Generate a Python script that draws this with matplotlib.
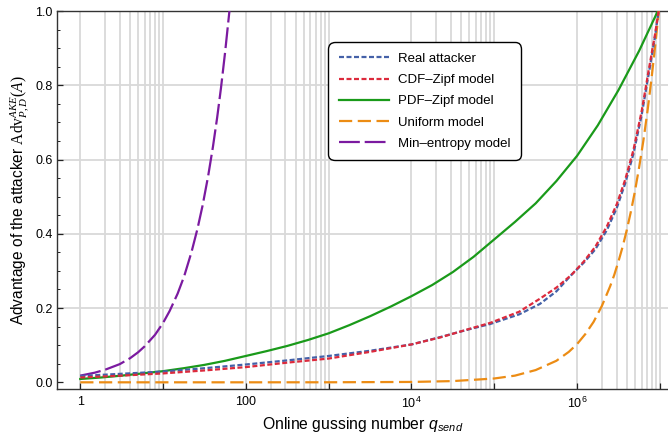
import numpy as np
import matplotlib
matplotlib.use("Agg")
import matplotlib.pyplot as plt
from matplotlib.ticker import FixedLocator, FixedFormatter, MultipleLocator, NullFormatter

plt.rcParams['font.family'] = ['Liberation Sans', 'DejaVu Sans']
plt.rcParams['mathtext.fontset'] = 'custom'
plt.rcParams['mathtext.rm'] = 'Liberation Serif'
plt.rcParams['mathtext.it'] = 'Liberation Serif:italic'
plt.rcParams['mathtext.sf'] = 'Liberation Sans'
plt.rcParams['mathtext.bf'] = 'Liberation Sans:italic'
plt.rcParams['lines.scale_dashes'] = False

# ---------------- data ----------------
real_logq = [0, 0.5, 1, 1.5, 2, 2.5, 3, 3.5, 4, 4.35, 4.7, 4.95, 5.3, 5.55, 5.75,
             5.93, 6.08, 6.22, 6.36, 6.48, 6.58, 6.68, 6.78, 6.88, 6.94, 6.985]
real_adv = [0.017, 0.023, 0.029, 0.038, 0.048, 0.059, 0.071, 0.085, 0.102, 0.122,
            0.143, 0.157, 0.183, 0.211, 0.245, 0.289, 0.322, 0.358, 0.41, 0.47,
            0.535, 0.615, 0.72, 0.85, 0.93, 1.0]

cdf_logq = [0, 0.5, 1, 1.5, 2, 2.5, 3, 3.5, 4, 4.35, 4.7, 4.95, 5.3, 5.55, 5.75,
            5.93, 6.08, 6.22, 6.36, 6.48, 6.58, 6.68, 6.78, 6.88, 6.94, 6.985]
cdf_adv = [0.013, 0.018, 0.024, 0.032, 0.041, 0.053, 0.064, 0.082, 0.102, 0.121,
           0.144, 0.16, 0.19, 0.225, 0.255, 0.289, 0.325, 0.365, 0.42, 0.48,
           0.545, 0.625, 0.73, 0.86, 0.935, 1.0]

pdf_logq = [0, 0.25, 0.5, 0.75, 1, 1.25, 1.5, 1.75, 2, 2.25, 2.5, 2.75, 3, 3.25,
            3.5, 3.75, 4, 4.25, 4.5, 4.75, 5, 5.25, 5.5, 5.75, 6, 6.25, 6.5,
            6.75, 6.975]
pdf_adv = [0.009, 0.013, 0.018, 0.024, 0.030, 0.038, 0.047, 0.058, 0.071, 0.084,
           0.098, 0.114, 0.132, 0.154, 0.178, 0.204, 0.232, 0.262, 0.297, 0.338,
           0.385, 0.432, 0.482, 0.542, 0.61, 0.692, 0.787, 0.893, 1.0]

uni_logq = [0, 1, 2, 3, 4, 4.5, 5, 5.25, 5.5, 5.75, 5.9, 6.0, 6.1, 6.2, 6.3, 6.4,
            6.45, 6.5, 6.55, 6.6, 6.65, 6.7, 6.75, 6.8, 6.85, 6.9, 6.95, 6.987]
uni_adv = [0.0, 0.0, 0.0, 0.0001, 0.001, 0.0033, 0.0103, 0.018, 0.033, 0.058, 0.082,
           0.103, 0.130, 0.163, 0.206, 0.259, 0.29, 0.326, 0.365, 0.41, 0.46, 0.516,
           0.58, 0.65, 0.73, 0.82, 0.92, 1.0]

minent_q = [1, 1.5, 2, 3, 4, 5, 6, 8, 10, 12, 15, 18, 22, 26, 30, 35, 40, 45, 50,
            56, 63.3]
minent_adv = [0.018, 0.026, 0.034, 0.049, 0.065, 0.081, 0.097, 0.128, 0.16, 0.192,
              0.239, 0.286, 0.35, 0.413, 0.476, 0.555, 0.634, 0.713, 0.792, 0.887, 1.0]

labels = ["Real attacker", "CDF\u2013Zipf model", "PDF\u2013Zipf model",
          "Uniform model", "Min\u2013entropy model"]
xtick_vals = [10.0**m for m in range(0, 8)]
xtick_labels = ["1", "", "100", "", r"$\mathsf{10^{4}}$", "", r"$\mathsf{10^{6}}$", ""]
ytick_vals = [0.0, 0.2, 0.4, 0.6, 0.8, 1.0]

# ---------------- figure ----------------
fig = plt.figure(figsize=(6.68, 4.37), dpi=100)
ax = fig.add_axes([57/668, 48/437, 611/668, 378/437])

grid_col = '#d9d9d9'
vgrid = [k * 10.0**m for m in (0, 2, 4, 6) for k in range(1, 11)]
for v in vgrid:
    ax.axvline(v, color=grid_col, lw=1.3, zorder=0)
for h in [0.2, 0.4, 0.6, 0.8]:
    ax.axhline(h, color=grid_col, lw=1.3, zorder=0)

c_blue = '#4461a8'
c_red = '#dc2a3c'
c_green = '#1a9a1a'
c_orange = '#ec8c14'
c_purple = '#7b1aa0'

ax.plot(10.0**np.array(real_logq), real_adv, color=c_blue, lw=1.6,
        dashes=(3.6, 1.8), label=labels[0], zorder=4)
ax.plot(10.0**np.array(cdf_logq), cdf_adv, color=c_red, lw=1.6,
        dashes=(3.6, 1.8), label=labels[1], zorder=5)
ax.plot(10.0**np.array(pdf_logq), pdf_adv, color=c_green, lw=1.6,
        label=labels[2], zorder=3)
ax.plot(10.0**np.array(uni_logq), uni_adv, color=c_orange, lw=1.6,
        dashes=(9.5, 4), label=labels[3], zorder=3)
ax.plot(minent_q, minent_adv, color=c_purple, lw=1.6,
        dashes=(15, 3.5), label=labels[4], zorder=3)

ax.set_xscale('log')
ax.set_xlim(10**-0.281, 10**7.098)
ax.set_ylim(-0.018, 1.0)

ax.xaxis.set_major_locator(FixedLocator(xtick_vals))
ax.xaxis.set_major_formatter(FixedFormatter(xtick_labels))
ax.xaxis.set_minor_locator(FixedLocator([]))
ax.yaxis.set_major_locator(FixedLocator(ytick_vals))
ax.yaxis.set_major_formatter(FixedFormatter(["%.1f" % v for v in ytick_vals]))
ax.yaxis.set_minor_locator(MultipleLocator(0.05))
ax.yaxis.set_minor_formatter(NullFormatter())

ax.tick_params(axis='both', which='major', direction='in', length=4, width=0.9,
               labelsize=9, colors='#222222', labelcolor='black', pad=5)
ax.tick_params(axis='y', which='minor', direction='in', length=2.3, width=0.7,
               colors='#222222')
ax.tick_params(axis='y', which='major', pad=3)

for s in ['left', 'bottom', 'top']:
    ax.spines[s].set_color('#333333')
    ax.spines[s].set_linewidth(1.0)
ax.spines['right'].set_visible(False)

ax.set_xlabel(r"Online gussing number $\mathbf{q}_{\mathbf{send}}$", fontsize=11.3, labelpad=3)
ax.set_ylabel(r"Advantage of the attacker $\mathrm{Adv}_{P,D}^{AKE}(A)$", fontsize=11.2, labelpad=3)

leg = ax.legend(loc='upper left', bbox_to_anchor=(0.433, 0.935), fontsize=9.5,
                handlelength=3.8, handletextpad=0.7, labelspacing=0.68,
                borderpad=0.8, frameon=True, fancybox=True, framealpha=1)
frame = leg.get_frame()
frame.set_edgecolor('black')
frame.set_linewidth(1.0)
frame.set_boxstyle('round,pad=0,rounding_size=0.5')

fig.savefig('out.png', dpi=100)
